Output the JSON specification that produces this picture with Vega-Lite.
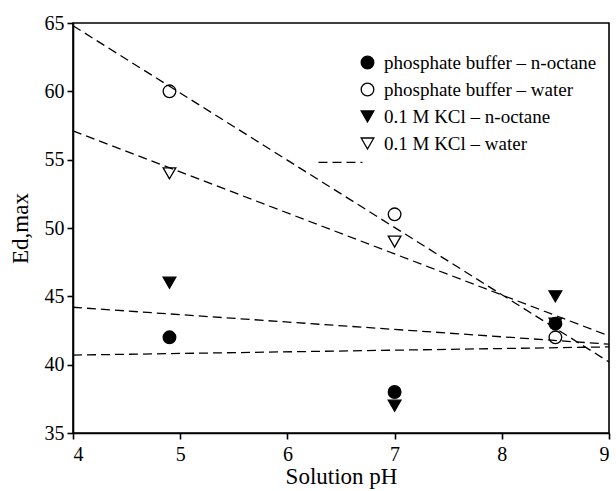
{
  "$schema": "https://vega.github.io/schema/vega-lite/v6.json",
  "width": 536,
  "height": 410,
  "autosize": "none",
  "padding": {"left": 73, "top": 23, "right": 7, "bottom": 58},
  "background": "white",
  "config": {
    "font": "Liberation Serif, Times New Roman, serif",
    "view": {"stroke": "black", "strokeWidth": 1.6},
    "axis": {
      "grid": false,
      "domainColor": "black",
      "domainWidth": 1.6,
      "tickColor": "black",
      "tickWidth": 1.6,
      "tickSize": 6,
      "labelFont": "Liberation Serif, Times New Roman, serif",
      "labelFontSize": 20,
      "labelColor": "black",
      "titleFont": "Liberation Serif, Times New Roman, serif",
      "titleFontSize": 23,
      "titleFontWeight": "normal",
      "titleColor": "black"
    },
    "legend": {
      "labelFont": "Liberation Serif, Times New Roman, serif",
      "labelFontSize": 19,
      "labelColor": "black",
      "labelLimit": 400
    }
  },
  "datasets": {
    "points": [
      {"pH": 4.9, "E": 42, "series": "phosphate buffer – n-octane"},
      {"pH": 7.0, "E": 38, "series": "phosphate buffer – n-octane"},
      {"pH": 8.5, "E": 43, "series": "phosphate buffer – n-octane"},
      {"pH": 4.9, "E": 60, "series": "phosphate buffer – water"},
      {"pH": 7.0, "E": 51, "series": "phosphate buffer – water"},
      {"pH": 8.5, "E": 42, "series": "phosphate buffer – water"},
      {"pH": 4.9, "E": 46, "series": "0.1 M KCl – n-octane"},
      {"pH": 7.0, "E": 37, "series": "0.1 M KCl – n-octane"},
      {"pH": 8.5, "E": 45, "series": "0.1 M KCl – n-octane"},
      {"pH": 4.9, "E": 54, "series": "0.1 M KCl – water"},
      {"pH": 7.0, "E": 49, "series": "0.1 M KCl – water"},
      {"pH": 8.5, "E": 43, "series": "0.1 M KCl – water"}
    ],
    "fits": [
      {"pH": 4, "E": 64.8, "fit": "pb-water"},
      {"pH": 9, "E": 40.2, "fit": "pb-water"},
      {"pH": 4, "E": 57.1, "fit": "kcl-water"},
      {"pH": 9, "E": 42.1, "fit": "kcl-water"},
      {"pH": 4, "E": 44.2, "fit": "kcl-octane"},
      {"pH": 9, "E": 41.5, "fit": "kcl-octane"},
      {"pH": 4, "E": 40.7, "fit": "pb-octane"},
      {"pH": 9, "E": 41.3, "fit": "pb-octane"},
      {"pH": 6.29, "E": 54.8, "fit": "stray"},
      {"pH": 6.7, "E": 54.8, "fit": "stray"}
    ]
  },
  "layer": [
    {
      "data": {"name": "fits"},
      "mark": {"type": "line", "color": "black", "strokeWidth": 1.3, "strokeDash": [9, 5]},
      "encoding": {
        "x": {"field": "pH", "type": "quantitative"},
        "y": {"field": "E", "type": "quantitative"},
        "detail": {"field": "fit"}
      }
    },
    {
      "data": {"name": "points"},
      "mark": {"type": "point", "strokeWidth": 1.3, "opacity": 1, "size": 160},
      "encoding": {
        "x": {
          "field": "pH", "type": "quantitative",
          "scale": {"domain": [4, 9], "nice": false, "zero": false},
          "axis": {"values": [4, 5, 6, 7, 8, 9], "format": "d", "title": "Solution pH", "labelPadding": 5, "titlePadding": 1}
        },
        "y": {
          "field": "E", "type": "quantitative",
          "scale": {"domain": [35, 65], "nice": false, "zero": false},
          "axis": {"values": [35, 40, 45, 50, 55, 60, 65], "format": "d", "title": "Ed,max", "titleColor": "#000000", "labelPadding": 3, "titlePadding": 12}
        },
        "shape": {
          "field": "series", "type": "nominal",
          "scale": {
            "domain": ["phosphate buffer – n-octane", "phosphate buffer – water", "0.1 M KCl – n-octane", "0.1 M KCl – water"],
            "range": ["circle", "circle", "triangle-down", "triangle-down"]
          },
          "legend": {
            "title": null,
            "orient": "none",
            "legendX": 285,
            "legendY": 30,
            "symbolSize": 160,
            "symbolStrokeWidth": 1.3,
            "labelOffset": 7,
            "rowPadding": 7,
            "labelLimit": 400
          }
        },
        "fill": {
          "field": "series", "type": "nominal",
          "scale": {
            "domain": ["phosphate buffer – n-octane", "phosphate buffer – water", "0.1 M KCl – n-octane", "0.1 M KCl – water"],
            "range": ["black", "transparent", "black", "transparent"]
          },
          "legend": {
            "title": null,
            "orient": "none",
            "legendX": 285,
            "legendY": 30,
            "symbolSize": 160,
            "symbolStrokeWidth": 1.3,
            "labelOffset": 7,
            "rowPadding": 7,
            "labelLimit": 400
          }
        },
        "stroke": {
          "field": "series", "type": "nominal",
          "scale": {
            "domain": ["phosphate buffer – n-octane", "phosphate buffer – water", "0.1 M KCl – n-octane", "0.1 M KCl – water"],
            "range": ["black", "black", "black", "black"]
          },
          "legend": {
            "title": null,
            "orient": "none",
            "legendX": 285,
            "legendY": 30,
            "symbolSize": 160,
            "symbolStrokeWidth": 1.3,
            "labelOffset": 7,
            "rowPadding": 7,
            "labelLimit": 400
          }
        }
      }
    }
  ]
}
